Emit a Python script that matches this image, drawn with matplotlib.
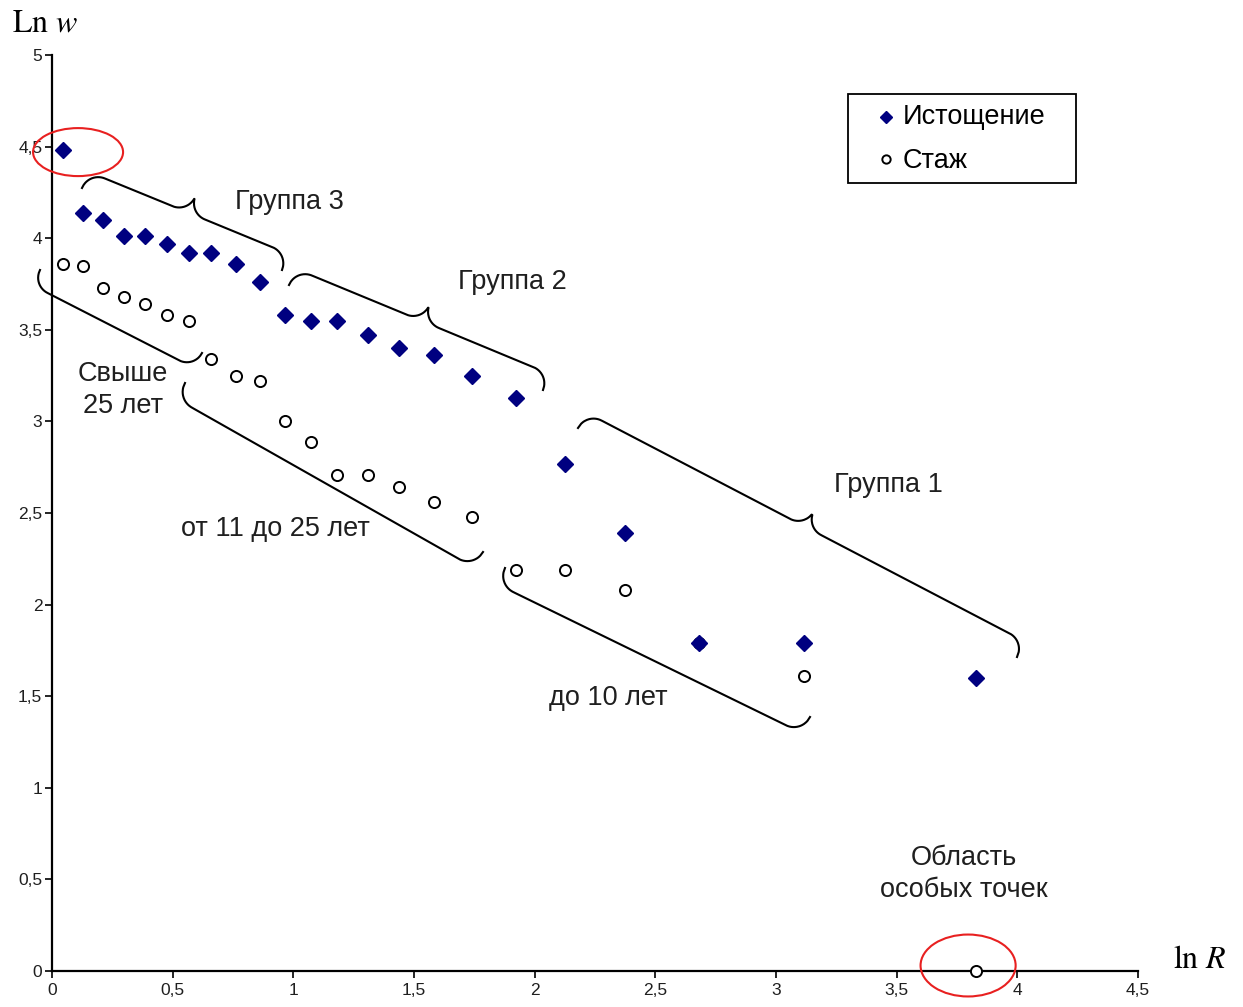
import numpy as np
import matplotlib
matplotlib.use("Agg")
import matplotlib.pyplot as plt
from matplotlib.patches import Ellipse, Rectangle
from matplotlib.lines import Line2D

plt.rcParams['font.family'] = ['Liberation Sans', 'DejaVu Sans']
plt.rcParams['mathtext.fontset'] = 'stix'

# ln R (общий для обеих серий)
ln_r = [0.046, 0.128, 0.211, 0.30, 0.385, 0.477, 0.568, 0.659, 0.763, 0.862,
        0.966, 1.073, 1.181, 1.31, 1.438, 1.583, 1.74, 1.923, 2.126, 2.375,
        2.681, 3.116, 3.829]
# Ln w — Истощение
istoshch = [4.48, 4.14, 4.10, 4.01, 4.01, 3.97, 3.92, 3.92, 3.86, 3.76,
            3.58, 3.55, 3.55, 3.47, 3.40, 3.36, 3.25, 3.13, 2.77, 2.39,
            1.79, 1.79, 1.60]
# Ln w — Стаж
stazh = [3.86, 3.85, 3.73, 3.68, 3.64, 3.58, 3.55, 3.34, 3.25, 3.22,
         3.00, 2.89, 2.71, 2.71, 2.64, 2.56, 2.48, 2.19, 2.19, 2.08,
         1.79, 1.61, 0.0]

x_ticks = [0, 0.5, 1, 1.5, 2, 2.5, 3, 3.5, 4, 4.5]
y_ticks = [0, 0.5, 1, 1.5, 2, 2.5, 3, 3.5, 4, 4.5, 5]

W, H = 1243, 1007
fig = plt.figure(figsize=(W / 100, H / 100), dpi=100)
ax = fig.add_axes([52 / W, 36 / H, (1138 - 52) / W, (971 - 55) / H])

txt = '#1f1f1f'
navy = '#000080'

ax.plot(ln_r, stazh, linestyle='none', marker='o', markersize=8,
        markerfacecolor='white', markeredgecolor='black', markeredgewidth=1.4,
        clip_on=False, zorder=3)
ax.plot(ln_r, istoshch, linestyle='none', marker='D', markersize=8.5,
        color=navy, clip_on=False, zorder=4)

ax.set_xlim(0, 4.5)
ax.set_ylim(0, 5)
ax.set_xticks(x_ticks)
ax.set_yticks(y_ticks)
fmt = lambda v: ('%g' % v).replace('.', ',')
ax.set_xticklabels([fmt(v) for v in x_ticks])
ax.set_yticklabels([fmt(v) for v in y_ticks])
ax.tick_params(labelsize=12.5, colors='black', labelcolor=txt, length=5, width=1.2)
ax.tick_params(axis='y', pad=2)
for s in ['top', 'right']:
    ax.spines[s].set_visible(False)
for s in ['left', 'bottom']:
    ax.spines[s].set_linewidth(1.6)

# подписи осей
fig.text(12 / W, 1 - 23 / H, r'$\mathrm{Ln}\ w$', fontsize=23, va='center', ha='left')
fig.text(1173 / W, 1 - 960 / H, r'$\mathrm{ln}\ R$', fontsize=23, va='center', ha='left')

# легенда (рамка и строки)
fig.add_artist(Rectangle((848 / W, 1 - 183 / H), (1076 - 848) / W, (183 - 94) / H,
                         transform=fig.transFigure, fill=False, edgecolor='black',
                         linewidth=1.3))
fig.add_artist(Line2D([886 / W], [1 - 117 / H], marker='D', markersize=6.5,
                      color=navy, linestyle='none', transform=fig.transFigure))
fig.add_artist(Line2D([886 / W], [1 - 159 / H], marker='o', markersize=6,
                      markerfacecolor='white', markeredgecolor='black',
                      markeredgewidth=1.4, linestyle='none', transform=fig.transFigure))
fig.text(903 / W, 1 - 117 / H, 'Истощение', fontsize=19.5, color='black', va='center')
fig.text(903 / W, 1 - 161 / H, 'Стаж', fontsize=19.5, color='black', va='center')


def brace(p0, p1, r, tip=True, sign=1):
    # фигурная скобка в пикселях картинки (y вниз)
    p0, p1 = np.array(p0, float), np.array(p1, float)
    d = p1 - p0
    L = np.hypot(*d)
    u = d / L
    n = sign * np.array([u[1], -u[0]])
    s = np.linspace(0, L, 600)
    e = np.minimum(s, L - s)
    curl = lambda t: np.sqrt(np.clip(r ** 2 - (r - t) ** 2, 0, None))
    off = curl(np.minimum(e, r))
    if tip:
        off = off + (r - curl(np.minimum(L / 2 - e, r)))
    pts = p0[None, :] + s[:, None] * u[None, :] + off[:, None] * n[None, :]
    fig.add_artist(Line2D(pts[:, 0] / W, 1 - pts[:, 1] / H, color='black',
                          linewidth=1.5, transform=fig.transFigure))


brace((82, 188), (282, 270), 17.5)
brace((289, 285), (543, 390), 17.5)
brace((578, 428), (1017, 657), 17.5)
brace((40, 270), (202, 353), 17, tip=False, sign=-1)
brace((185, 383), (483, 552), 18, tip=False, sign=-1)
brace((505, 568), (810, 717), 18, tip=False, sign=-1)

notes = [
    (289, 202, 'Группа 3'),
    (512, 282, 'Группа 2'),
    (888, 485, 'Группа 1'),
    (123, 390, 'Свыше\n25 лет'),
    (275, 529, 'от 11 до 25 лет'),
    (608, 698, 'до 10 лет'),
    (964, 874, 'Область\nособых точек'),
]
for x, y, s in notes:
    fig.text(x / W, 1 - y / H, s, fontsize=19.5, color=txt, ha='center', va='center',
             linespacing=1.3)

# красные овалы
ax.add_patch(Ellipse((0.108, 4.47), 0.373, 0.262, fill=False, edgecolor='#e82020',
                     linewidth=1.5, clip_on=False, zorder=5))
ax.add_patch(Ellipse((3.796, 0.03), 0.394, 0.338, fill=False, edgecolor='#e82020',
                     linewidth=1.5, clip_on=False, zorder=5))

plt.savefig('out.png', dpi=100)
